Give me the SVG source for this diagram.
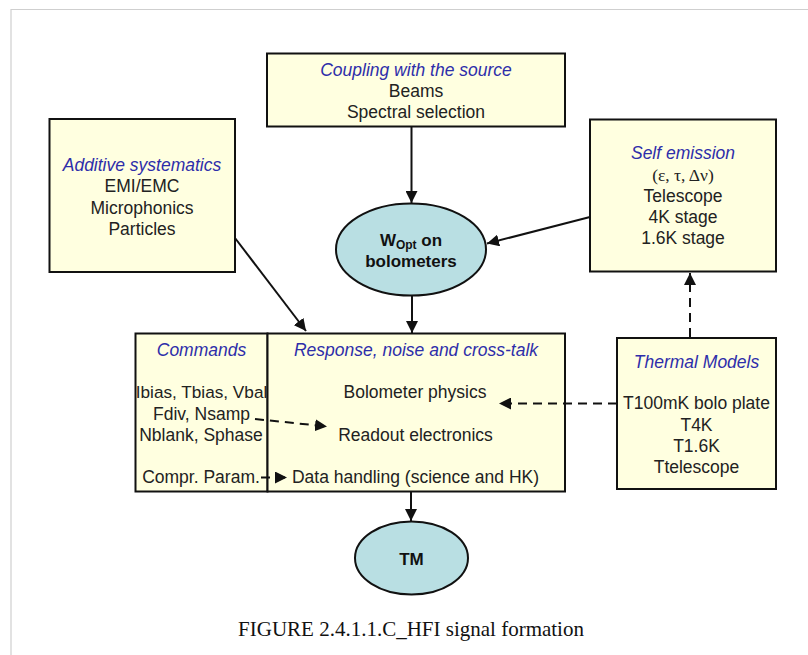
<svg xmlns="http://www.w3.org/2000/svg" width="808" height="655" viewBox="0 0 808 655">
<defs>
<style>
.box{fill:#ffffe0;stroke:#111;stroke-width:2}
.ell{fill:#b9dfe3;stroke:#111;stroke-width:2}
.t{font-family:"Liberation Sans",Arial,sans-serif;font-size:17.5px;fill:#222;text-anchor:middle}
.h{font-style:italic;fill:#2e2eaa}
.b{font-weight:bold;fill:#111;font-size:17px}
.ln{stroke:#111;stroke-width:2;fill:none}
.dash{stroke-dasharray:9 6}
.cap{font-family:"Liberation Serif","Times New Roman",serif;font-size:21px;fill:#111;text-anchor:middle}
</style>
<marker id="ah" viewBox="0 0 10 10" refX="10" refY="5" markerWidth="6" markerHeight="6" orient="auto" markerUnits="strokeWidth">
<path d="M0,0 L10,5 L0,10 z" fill="#111"/>
</marker>
</defs>
<rect width="808" height="655" fill="#fff"/>
<path d="M11,655 V9.5 H808" fill="none" stroke="#cfcfcf" stroke-width="1.2"/>

<g id="coupling">
<rect class="box" x="267" y="53.5" width="298" height="73"/>
<text class="t h" x="416" y="75.5">Coupling with the source</text>
<text class="t" x="416" y="96.5">Beams</text>
<text class="t" x="416" y="117.5">Spectral selection</text>
</g>

<g id="additive">
<rect class="box" x="49.5" y="119" width="185.5" height="153"/>
<text class="t h" x="142" y="170.5">Additive systematics</text>
<text class="t" x="142" y="192">EMI/EMC</text>
<text class="t" x="142" y="213.5">Microphonics</text>
<text class="t" x="142" y="234.5">Particles</text>
</g>

<g id="selfemission">
<rect class="box" x="590" y="119.5" width="186" height="152"/>
<text class="t h" x="683" y="159">Self emission</text>
<text class="t" x="683" y="180.5" style="font-family:'Liberation Serif','Times New Roman',serif">(ε, τ, Δν)</text>
<text class="t" x="683" y="202">Telescope</text>
<text class="t" x="683" y="223">4K stage</text>
<text class="t" x="683" y="244">1.6K stage</text>
</g>

<g id="wopt">
<ellipse class="ell" cx="411" cy="249.5" rx="75" ry="46"/>
<text class="t b" x="411" y="246">W<tspan font-size="12" dy="3">Opt</tspan><tspan dy="-3"> on</tspan></text>
<text class="t b" x="411" y="266.5">bolometers</text>
</g>

<g id="commands">
<rect class="box" x="135.5" y="333.5" width="132" height="158"/>
<text class="t h" x="201.5" y="355.5">Commands</text>
<text class="t" x="201.5" y="397.5" style="font-size:17.2px">Ibias, Tbias, Vbal</text>
<text class="t" x="201.5" y="419.5">Fdiv, Nsamp</text>
<text class="t" x="201" y="440.5">Nblank, Sphase</text>
<text class="t" x="201" y="482.5">Compr. Param.</text>
</g>

<g id="response">
<rect class="box" x="267.5" y="333.5" width="297.5" height="158"/>
<text class="t h" x="416" y="355.5">Response, noise and cross-talk</text>
<text class="t" x="415" y="397.5">Bolometer physics</text>
<text class="t" x="415.5" y="440.5">Readout electronics</text>
<text class="t" x="415.5" y="482.5">Data handling (science and HK)</text>
</g>

<g id="thermal">
<rect class="box" x="617" y="338" width="159" height="151"/>
<text class="t h" x="696.5" y="367.5">Thermal Models</text>
<text class="t" x="696.5" y="409">T100mK bolo plate</text>
<text class="t" x="696.5" y="430.5">T4K</text>
<text class="t" x="696.5" y="452">T1.6K</text>
<text class="t" x="696.5" y="472.5">Ttelescope</text>
</g>

<g id="tm">
<ellipse class="ell" cx="411.5" cy="558" rx="56.5" ry="36.5"/>
<text class="t b" x="411.5" y="564.5">TM</text>
</g>

<g id="connectors">
<line class="ln" x1="411.5" y1="127" x2="411.5" y2="203" marker-end="url(#ah)"/>
<line class="ln" x1="590" y1="217" x2="487" y2="243.5" marker-end="url(#ah)"/>
<line class="ln" x1="235" y1="238" x2="306" y2="331" marker-end="url(#ah)"/>
<line class="ln" x1="412" y1="296" x2="412" y2="333" marker-end="url(#ah)"/>
<line class="ln" x1="411" y1="492" x2="411" y2="521" marker-end="url(#ah)"/>
<line class="ln dash" x1="690" y1="337" x2="690" y2="273" marker-end="url(#ah)"/>
<line class="ln dash" x1="617" y1="403.5" x2="499" y2="403.5" marker-end="url(#ah)"/>
<line class="ln dash" x1="255" y1="419" x2="327" y2="426.5" marker-end="url(#ah)"/>
<line class="ln dash" x1="261" y1="477.5" x2="287" y2="477.5" marker-end="url(#ah)"/>
</g>

<text class="cap" x="411" y="636">FIGURE 2.4.1.1.C_HFI signal formation</text>
</svg>
